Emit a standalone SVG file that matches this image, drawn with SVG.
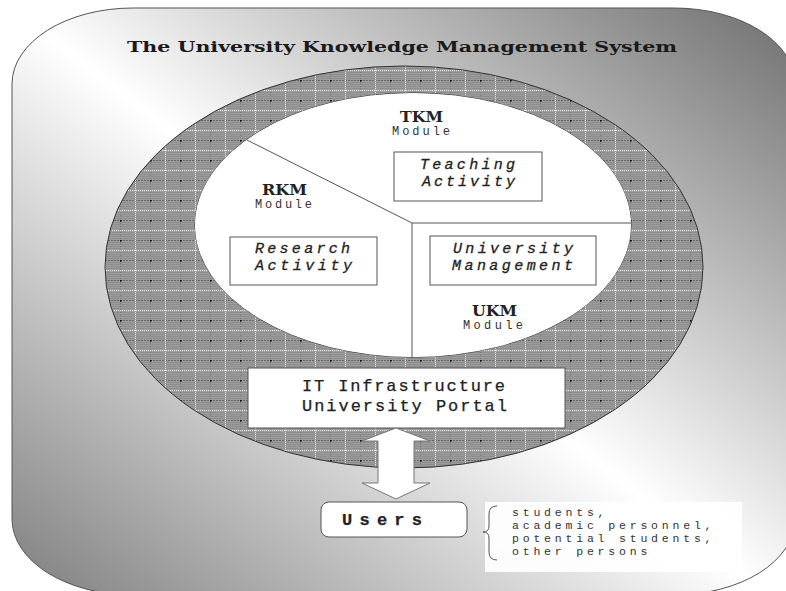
<svg xmlns="http://www.w3.org/2000/svg" width="786" height="591" viewBox="0 0 786 591">
<defs>
<linearGradient id="bg" gradientUnits="userSpaceOnUse" x1="97" y1="681" x2="685" y2="-77">
<stop offset="0" stop-color="#7a7a7a"/>
<stop offset="0.5" stop-color="#ffffff"/>
<stop offset="1" stop-color="#6e6e6e"/>
</linearGradient>
<pattern id="mesh" width="30" height="20" patternUnits="userSpaceOnUse">
<rect width="30" height="20" fill="#9c9c9c"/>
<path d="M0,2.5H30M0,4.5H30M0,6.5H30M0,8.5H30M0,12.5H30M0,14.5H30M0,16.5H30M0,18.5H30" stroke="#8e8e8e" stroke-width="1"/>
<line x1="0" y1="0.5" x2="30" y2="0.5" stroke="#666" stroke-width="1" stroke-dasharray="2 1"/>
<line x1="0" y1="10.5" x2="30" y2="10.5" stroke="#e8e8e8" stroke-width="1" stroke-dasharray="1 1"/>
<line x1="15.5" y1="0" x2="15.5" y2="20" stroke="#e8e8e8" stroke-width="1" stroke-dasharray="1 1"/>
<line x1="0.5" y1="0" x2="0.5" y2="20" stroke="#777" stroke-width="1" stroke-dasharray="1 2"/>
<circle cx="0.5" cy="0.5" r="1.3" fill="#111"/>
</pattern>
</defs>
<style>
.box{fill:#fff;stroke:#555;stroke-width:1}
.line{stroke:#555;stroke-width:1;fill:none}
.ttl{font-family:"DejaVu Serif","Liberation Serif",serif;font-weight:bold;font-size:15px;fill:#1a1a1a}
.mod{font-family:"DejaVu Serif","Liberation Serif",serif;font-weight:bold;font-size:15px;fill:#222}
.sub{font-family:"Liberation Mono","DejaVu Sans Mono",monospace;font-size:12px;fill:#333}
.act{font-family:"Liberation Mono","DejaVu Sans Mono",monospace;font-style:italic;font-size:15px;fill:#222;stroke:#222;stroke-width:0.3}
.mono{font-family:"Liberation Mono","DejaVu Sans Mono",monospace;font-size:17px;fill:#222;stroke:#222;stroke-width:0.25}
.lst{font-family:"Liberation Mono","DejaVu Sans Mono",monospace;font-size:11.5px;fill:#333;letter-spacing:3.8px}
</style>
<g id="background">
<rect x="12" y="8" width="783" height="587" rx="121" ry="76" fill="url(#bg)" stroke="#555" stroke-width="1"/>
</g>
<g id="title">
<text class="ttl" x="127" y="52" textLength="550" lengthAdjust="spacingAndGlyphs">The University Knowledge Management System</text>
</g>
<g id="ring">
<path d="M105,267 A299,201 0 1,0 703,267 A299,201 0 1,0 105,267 Z M195,225 A218,132 0 1,1 631,225 A218,132 0 1,1 195,225 Z" fill="url(#mesh)" fill-rule="evenodd" stroke="#333" stroke-width="1"/>
<ellipse cx="413" cy="225" rx="218" ry="132" fill="#fff"/>
</g>
<g id="modules">
<line class="line" x1="247" y1="140" x2="412" y2="223"/>
<line class="line" x1="412" y1="223" x2="631" y2="223"/>
<line class="line" x1="412" y1="223" x2="412" y2="357"/>
</g>
<g id="tkm">
<text class="mod" x="400" y="122" textLength="43" lengthAdjust="spacingAndGlyphs">TKM</text>
<text class="sub" x="392" y="135" textLength="58">Module</text>
</g>
<g id="rkm">
<text class="mod" x="262" y="195" textLength="45" lengthAdjust="spacingAndGlyphs">RKM</text>
<text class="sub" x="255" y="208" textLength="57">Module</text>
</g>
<g id="ukm">
<text class="mod" x="472" y="316" textLength="45" lengthAdjust="spacingAndGlyphs">UKM</text>
<text class="sub" x="463" y="329" textLength="60">Module</text>
</g>
<g id="teaching">
<rect class="box" x="394" y="152" width="148" height="49"/>
<text class="act" x="420" y="169" textLength="95">Teaching</text>
<text class="act" x="422" y="186" textLength="93">Activity</text>
</g>
<g id="research">
<rect class="box" x="230" y="237" width="147" height="48"/>
<text class="act" x="255" y="253" textLength="95">Research</text>
<text class="act" x="255" y="270" textLength="97">Activity</text>
</g>
<g id="management">
<rect class="box" x="430" y="236" width="166" height="49"/>
<text class="act" x="453" y="253" textLength="120">University</text>
<text class="act" x="452" y="270" textLength="121">Management</text>
</g>
<g id="portal">
<rect class="box" x="248" y="368" width="317" height="60"/>
<text class="mono" x="302" y="391" textLength="203">IT Infrastructure</text>
<text class="mono" x="302" y="411" textLength="205">University Portal</text>
</g>
<g id="connectors">
<polygon points="396,428 430,441 414,441 414,483 430,483 396,499 362,483 378,483 378,441 362,441" fill="#fff" stroke="#777" stroke-width="1"/>
</g>
<g id="users">
<rect class="box" x="321" y="502" width="146" height="35" rx="8" ry="8"/>
<text class="mono" x="342" y="525" font-weight="bold" textLength="80">Users</text>
</g>
<g id="user-list">
<rect x="485" y="502" width="257" height="70" fill="#fff" opacity="0.92"/>
<path class="line" d="M497,506 Q489,506 489,514 L489,526 Q489,532 483,532 Q489,532 489,538 L489,552 Q489,560 497,560" stroke="#666"/>
<text class="lst" x="512" y="516">students,</text>
<text class="lst" x="512" y="529">academic personnel,</text>
<text class="lst" x="512" y="542">potential students,</text>
<text class="lst" x="512" y="555">other persons</text>
</g>
</svg>
